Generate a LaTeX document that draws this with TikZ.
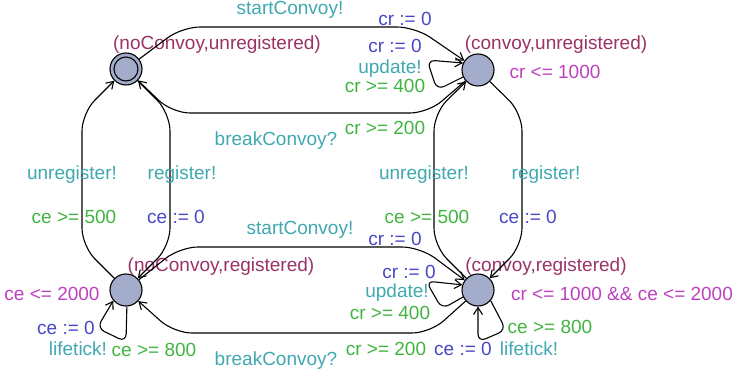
\documentclass[tikz,border=0pt]{standalone}
\usepackage{fontspec}
\setmainfont{Liberation Sans}
\usetikzlibrary{arrows.meta}

\definecolor{locname}{RGB}{153,51,102}
\definecolor{invcol}{RGB}{190,64,190}
\definecolor{synccol}{RGB}{64,168,176}
\definecolor{guardcol}{RGB}{64,180,64}
\definecolor{assigncol}{RGB}{72,72,196}
\definecolor{locfill}{RGB}{163,173,203}

\tikzset{
  loc/.style={circle, draw=black, line width=1.1pt, fill=locfill, minimum size=32pt, inner sep=0pt},
  lbl/.style={anchor=base, inner sep=0pt, font=\fontsize{19}{22}\selectfont},
  nm/.style={lbl, text=locname},
  inv/.style={lbl, text=invcol},
  sync/.style={lbl, text=synccol},
  grd/.style={lbl, text=guardcol},
  asg/.style={lbl, text=assigncol},
  trans/.style={draw=black, line width=1.1pt, rounded corners=18pt,
    -{Straight Barb[length=7pt,width=9pt]}},
  loopedge/.style={trans, rounded corners=8pt}
}

\begin{document}
\begin{tikzpicture}[x=1pt,y=-1pt]
\useasboundingbox (0,0) rectangle (739,374);

% locations
\node[loc] (nu) at (126,69) {};
\draw[line width=1.1pt] (nu.center) circle[radius=12pt];
\node[loc] (cu) at (478,70) {};
\node[loc] (nr) at (126,290) {};
\node[loc] (cr) at (478,290) {};

% location names and invariants
\node[nm] (nuname) at (217,50) {(noConvoy,unregistered)};
\node[nm] (cuname) at (556,50) {(convoy,unregistered)};
\node[nm] (nrname) at (221,271) {(noConvoy,registered)};
\node[nm] (crname) at (546,271) {(convoy,registered)};
\node[inv] (cuinv) at (555,79) {cr <= 1000};
\node[inv] (nrinv) at (52,300) {ce <= 2000};
\node[inv] (crinv) at (622,300) {cr <= 1000 \&\& ce <= 2000};

% start / break convoy, unregistered
\draw[trans] (nu) -- (182,27) -- (415,27) -- (cu);
\node[sync] (s1) at (290,15) {startConvoy!};
\node[asg] (a1) at (405,26) {cr := 0};
\draw[trans] (cu) -- (428,113) -- (172,113) -- (nu);
\node[grd] (g1) at (385,135) {cr >= 200};
\node[sync] (s2) at (276,146) {breakConvoy?};

% update loop, unregistered
\draw[loopedge] (cu.205) -- (437,90) -- (427,60) -- (cu.155);
\node[asg] (a2) at (395,53) {cr := 0};
\node[sync] (s3) at (390,74) {update!};
\node[grd] (g2) at (385,93) {cr >= 400};

% register / unregister, no convoy
\draw[trans] (nr) -- (82,246) -- (82,113) -- (nu);
\draw[trans] (nu) -- (170,113) -- (170,246) -- (nr);
\node[sync] (s4) at (72,180) {unregister!};
\node[grd] (g3) at (74,224) {ce >= 500};
\node[sync] (s5) at (182,180) {register!};
\node[asg] (a3) at (176,224) {ce := 0};

% register / unregister, convoy
\draw[trans] (cr) -- (434,246) -- (434,113) -- (cu);
\draw[trans] (cu) -- (522,113) -- (522,246) -- (cr);
\node[sync] (s6) at (424,180) {unregister!};
\node[grd] (g4) at (427,224) {ce >= 500};
\node[sync] (s7) at (546,180) {register!};
\node[asg] (a4) at (528,224) {ce := 0};

% start / break convoy, registered
\draw[trans] (nr) -- (180,247) -- (420,247) -- (cr);
\node[sync] (s8) at (300,235) {startConvoy!};
\node[asg] (a5) at (395,245) {cr := 0};
\draw[trans] (cr) -- (430,333) -- (174,333) -- (nr);
\node[sync] (s9) at (276,365) {breakConvoy?};
\node[grd] (g5) at (386,355) {cr >= 200};

% update loop, registered
\draw[loopedge] (cr.205) -- (442,309) -- (426,281) -- (cr.162);
\node[asg] (a6) at (409,278) {cr := 0};
\node[sync] (s10) at (397,298) {update!};
\node[grd] (g6) at (390,319) {cr >= 400};

% lifetick loops
\draw[loopedge] (nr.-87) -- (126,342) -- (97,328) -- (nr.-140);
\node[asg] (a7) at (66,334) {ce := 0};
\node[sync] (s11) at (78,355) {lifetick!};
\node[grd] (g7) at (154,356) {ce >= 800};

\draw[loopedge] (cr.-40) -- (506,330) -- (478,342) -- (cr.-90);
\node[grd] (g8) at (550,333) {ce >= 800};
\node[asg] (a8) at (463,355) {ce := 0};
\node[sync] (s12) at (529,355) {lifetick!};
\end{tikzpicture}
\end{document}
